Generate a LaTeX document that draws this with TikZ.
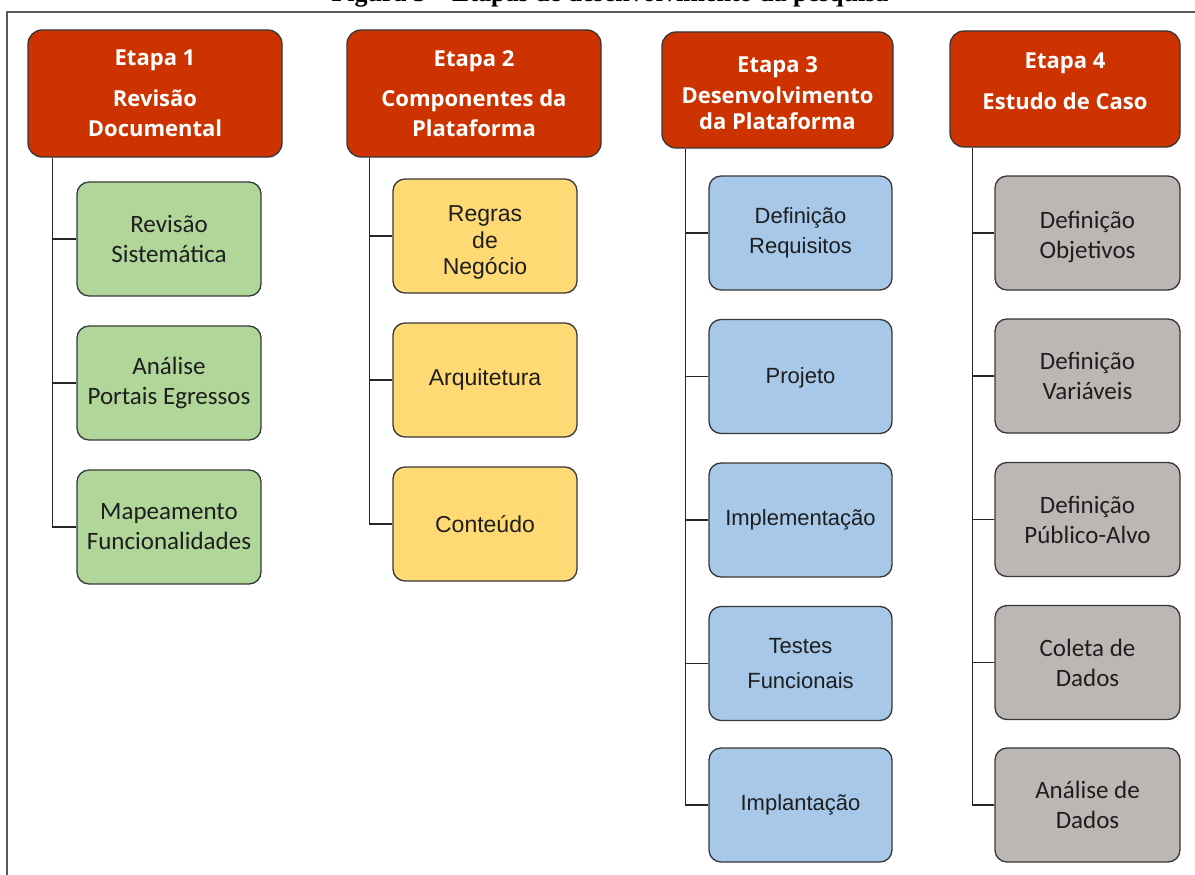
\documentclass[tikz,border=0pt]{standalone}
\usepackage{fontspec}
\setmainfont{Liberation Serif}
\newfontfamily\hdrfam{Open Sans}
\newfontfamily\calfam{Carlito}
\newfontfamily\arfam{Liberation Sans}
\definecolor{hdrred}{RGB}{204,51,0}
\definecolor{bxgreen}{RGB}{176,214,153}
\definecolor{bxyellow}{RGB}{255,217,115}
\definecolor{bxblue}{RGB}{167,200,232}
\definecolor{bxgray}{RGB}{188,183,181}
\definecolor{edgegray}{RGB}{55,55,55}
\definecolor{txtdark}{RGB}{30,30,30}
\definecolor{framegray}{RGB}{90,90,90}
\tikzset{
  hdr/.style={draw=edgegray, line width=1.3pt, fill=hdrred, rounded corners=14pt,
    text=white, align=center, inner sep=0pt,
    font=\hdrfam\bfseries\fontsize{22}{30}\selectfont},
  sub/.style={draw=edgegray, line width=1.3pt, rounded corners=12pt,
    minimum width=184pt, minimum height=114pt, align=center, inner sep=0pt, text=txtdark},
  calsub/.style={sub, font=\calfam\fontsize{25}{30}\selectfont},
  arsub/.style={sub, font=\arfam\fontsize{22}{26.5}\selectfont},
  arsubw/.style={sub, font=\arfam\fontsize{23}{26.5}\selectfont}
}
\tikzset{conn/.style={draw=black!85, line width=1.4pt}}
\begin{document}
\begin{tikzpicture}[x=1pt,y=-1pt]
\useasboundingbox (0,0) rectangle (1195,875);
\clip (0,0) rectangle (1195,875);
% title (cut off at the top, as in the reference)
\node[anchor=base, font=\bfseries\fontsize{26}{30}\selectfont, inner sep=0pt] (title) at (610,1.5) {Figura 3 -- Etapas de desenvolvimento da pesquisa};
% frame
\draw[draw=framegray, line width=2pt] (7,880) -- (7,12) -- (1200,12);

% headers
\node[hdr, minimum width=254pt, minimum height=127pt] (h1) at (155,93.5) {Etapa 1\\[11pt]Revisão\\Documental};
\node[hdr, minimum width=254pt, minimum height=127pt] (h2) at (474,93.5) {Etapa 2\\[10pt]Componentes da\\Plataforma};
\node[hdr, minimum width=231pt, minimum height=116pt] (h3) at (777.5,90) {\rule{0pt}{22pt}Etapa 3\\[1pt]Desenvolvimento\\[-4pt]da Plataforma};
\node[hdr, minimum width=230pt, minimum height=116pt] (h4) at (1065,89) {Etapa 4\\[11pt]Estudo de Caso\\[-14pt]\mbox{}};

% column 1
\node[calsub, fill=bxgreen] (a1) at (169,239) {Revisão\\Sistemática};
\node[calsub, fill=bxgreen] (a2) at (169,383) {Análise\\Portais Egressos};
\node[calsub, fill=bxgreen] (a3) at (169,527) {Mapeamento\\Funcionalidades};
% column 2
\node[arsubw, fill=bxyellow] (b1) at (485,236) {\rule{0pt}{29pt}Regras\\de\\Negócio};
\node[arsubw, fill=bxyellow] (b2) at (485,380) {Arquitetura};
\node[arsubw, fill=bxyellow] (b3) at (485,524) {Conteúdo};
% column 3
\node[arsub, fill=bxblue, minimum width=183pt] (c1) at (800.5,233) {Definição\\[3pt]Requisitos};
\node[arsub, fill=bxblue, minimum width=183pt] (c2) at (800.5,376.5) {\rule{0pt}{19pt}Projeto};
\node[arsub, fill=bxblue, minimum width=183pt] (c3) at (800.5,520) {Implementação};
\node[arsub, fill=bxblue, minimum width=183pt] (c4) at (800.5,663.5) {Testes\\[8pt]Funcionais};
\node[arsub, fill=bxblue, minimum width=183pt] (c5) at (800.5,805) {Implantação};
% column 4
\node[calsub, fill=bxgray, minimum width=185pt] (d1) at (1087.5,233) {\rule{0pt}{25pt}Definição\\Objetivos};
\node[calsub, fill=bxgray, minimum width=185pt] (d2) at (1087.5,376) {Definição\\Variáveis};
\node[calsub, fill=bxgray, minimum width=185pt] (d3) at (1087.5,519.5) {Definição\\Público-Alvo};
\node[calsub, fill=bxgray, minimum width=185pt] (d4) at (1087.5,662.5) {Coleta de\\Dados};
\node[calsub, fill=bxgray, minimum width=185pt] (d5) at (1087.5,805) {Análise de\\Dados};

% trunk start points
\coordinate (s1) at ([xshift=25pt]h1.south west);
\coordinate (s2) at ([xshift=23pt]h2.south west);
\coordinate (s3) at ([xshift=24pt]h3.south west);
\coordinate (s4) at ([xshift=23pt]h4.south west);

% connectors
\draw[conn] (s1) |- (a3.west);
\draw[conn] (a1.west) -- (a1.west -| s1);
\draw[conn] (a2.west) -- (a2.west -| s1);

\draw[conn] (s2) |- (b3.west);
\draw[conn] (b1.west) -- (b1.west -| s2);
\draw[conn] (b2.west) -- (b2.west -| s2);

\draw[conn] (s3) |- (c5.west);
\draw[conn] (c1.west) -- (c1.west -| s3);
\draw[conn] (c2.west) -- (c2.west -| s3);
\draw[conn] (c3.west) -- (c3.west -| s3);
\draw[conn] (c4.west) -- (c4.west -| s3);

\draw[conn] (s4) |- (d5.west);
\draw[conn] (d1.west) -- (d1.west -| s4);
\draw[conn] (d2.west) -- (d2.west -| s4);
\draw[conn] (d3.west) -- (d3.west -| s4);
\draw[conn] (d4.west) -- (d4.west -| s4);
\end{tikzpicture}
\end{document}
